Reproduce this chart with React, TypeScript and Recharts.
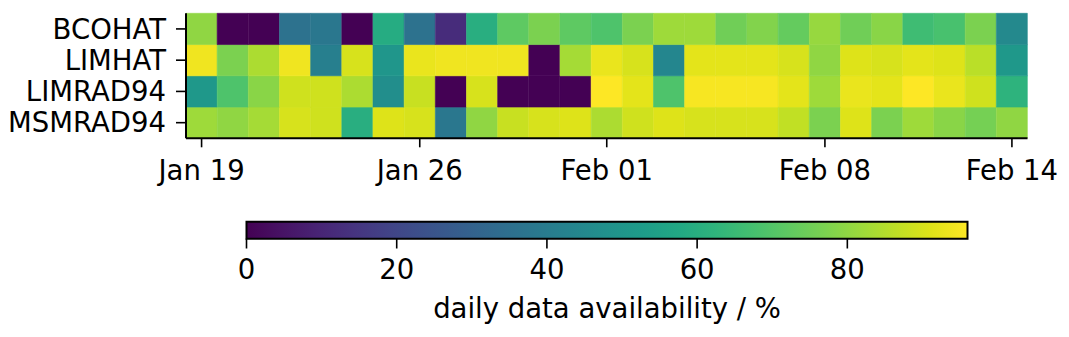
import React from "react";
import { Bar, BarChart, Cell, XAxis, YAxis } from "recharts";

// days shown on the x axis (one column per day)
const days = [
  "Jan 19", "Jan 20", "Jan 21", "Jan 22", "Jan 23", "Jan 24", "Jan 25",
  "Jan 26", "Jan 27", "Jan 28", "Jan 29", "Jan 30", "Jan 31", "Feb 01",
  "Feb 02", "Feb 03", "Feb 04", "Feb 05", "Feb 06", "Feb 07", "Feb 08",
  "Feb 09", "Feb 10", "Feb 11", "Feb 12", "Feb 13", "Feb 14",
];
const labelledDays = ["Jan 19", "Jan 26", "Feb 01", "Feb 08", "Feb 14"];

const instruments = ["BCOHAT", "LIMHAT", "LIMRAD94", "MSMRAD94"];

// daily data availability in %
const bcohat = [80, 0, 0, 36, 38, 0, 59, 36, 12, 60, 72, 77, 72, 69, 77, 82, 82, 75, 78, 73, 81, 75, 79, 66, 68, 77, 45];
const limhat = [94, 77, 84, 94, 41, 90, 50, 93, 94, 94, 94, 0, 83, 93, 90, 44, 92, 92, 92, 90, 80, 91, 90, 92, 91, 86, 51];
const limrad94 = [51, 69, 79, 89, 89, 84, 47, 88, 0, 90, 0, 0, 0, 96, 92, 69, 95, 95, 95, 92, 82, 93, 92, 96, 93, 89, 62];
const msmrad94 = [82, 80, 83, 90, 89, 60, 91, 90, 38, 80, 88, 90, 91, 84, 89, 91, 90, 90, 90, 87, 77, 91, 77, 82, 79, 76, 80];

const cbarMax = 96;
const cbarTicks = [0, 20, 40, 60, 80];

const viridis = [
  "#440154", "#471365", "#482475", "#463480", "#414487", "#3b528b", "#355f8d",
  "#2f6c8e", "#2a788e", "#25848e", "#21918c", "#1e9c89", "#22a884", "#2fb47c",
  "#44bf70", "#5ec962", "#7ad151", "#9bd93c", "#bddf26", "#dfe318", "#fde725",
];

const hex = (c: string) => [1, 3, 5].map((i) => parseInt(c.slice(i, i + 2), 16));

function colorFor(v: number) {
  const t = Math.max(0, Math.min(1, v / cbarMax)) * (viridis.length - 1);
  const i = Math.min(Math.floor(t), viridis.length - 2);
  const f = t - i;
  const a = hex(viridis[i]);
  const b = hex(viridis[i + 1]);
  const rgb = a.map((x, k) => Math.round(x + (b[k] - x) * f));
  return `rgb(${rgb.join(",")})`;
}

// stacked from the bottom up, so the first row sits on top
const rows = [
  { name: "MSMRAD94", values: msmrad94 },
  { name: "LIMRAD94", values: limrad94 },
  { name: "LIMHAT", values: limhat },
  { name: "BCOHAT", values: bcohat },
];

const heatData = days.map((day) => ({
  day,
  MSMRAD94: 1,
  LIMRAD94: 1,
  LIMHAT: 1,
  BCOHAT: 1,
}));

const font = "DejaVu Sans";
const fs = 27.5;
const frame = { stroke: "#000", strokeWidth: 2 };

const DayTick = (props: any) => {
  const { x, y, payload } = props;
  if (!labelledDays.includes(payload.value)) return null;
  return (
    <g>
      <line x1={x} x2={x} y1={y} y2={y + 9} stroke="#000" strokeWidth={1.6} />
      <text x={x} y={y + 42} textAnchor="middle" fontSize={fs} fontFamily={font} fill="#000">
        {payload.value}
      </text>
    </g>
  );
};

export default function App() {
  return (
    <div style={{ position: "absolute", left: 0, top: 0, width: 1069, height: 337, background: "#fff", fontFamily: font }}>
      <BarChart
        width={1069}
        height={200}
        data={heatData}
        margin={{ top: 13.3, right: 41.5, left: 0, bottom: 0 }}
        barCategoryGap={0}
        barGap={0}
      >
        {rows.map((r) => (
          <Bar key={r.name} dataKey={r.name} stackId="a" isAnimationActive={false}>
            {r.values.map((v, i) => (
              <Cell key={i} fill={colorFor(v)} stroke={colorFor(v)} strokeWidth={0.6} />
            ))}
          </Bar>
        ))}
        <XAxis
          dataKey="day"
          interval={0}
          height={61.7}
          tickSize={0}
          tickMargin={0}
          tickLine={false}
          axisLine={frame}
          tick={<DayTick />}
        />
        <XAxis xAxisId="top" orientation="top" height={0} tick={false} tickLine={false} axisLine={frame} />
        <YAxis
          type="number"
          domain={[0, 4]}
          ticks={[0.5, 1.5, 2.5, 3.5]}
          interval={0}
          tickFormatter={(v: number) => instruments[3 - Math.floor(v)]}
          width={186}
          tickSize={10}
          tickMargin={10}
          tickLine={{ stroke: "#000", strokeWidth: 1.6 }}
          axisLine={frame}
          tick={{ fill: "#000", fontSize: fs, fontFamily: font }}
        />
        <YAxis yAxisId="right" orientation="right" width={0} tick={false} tickLine={false} axisLine={frame} />
      </BarChart>
      <BarChart
        width={1069}
        height={137}
        layout="vertical"
        data={[{ name: "cbar", value: cbarMax }]}
        margin={{ top: 21.7, right: 101.5, left: 246.5, bottom: 0 }}
        barCategoryGap={0}
      >
        <defs>
          <linearGradient id="viridisGrad" x1="0" y1="0" x2="1" y2="0">
            {viridis.map((c, i) => (
              <stop key={i} offset={i / (viridis.length - 1)} stopColor={c} />
            ))}
          </linearGradient>
        </defs>
        <YAxis type="category" dataKey="name" hide />
        <XAxis
          type="number"
          domain={[0, cbarMax]}
          ticks={cbarTicks}
          interval={0}
          height={98.5}
          tickSize={10}
          tickMargin={11}
          axisLine={false}
          tickLine={{ stroke: "#000", strokeWidth: 1.6 }}
          tick={{ fill: "#000", fontSize: fs, fontFamily: font }}
          label={{
            value: "daily data availability / %",
            position: "insideBottom",
            offset: 18.7,
            fill: "#000",
            fontSize: fs,
            fontFamily: font,
          }}
        />
        <Bar dataKey="value" fill="url(#viridisGrad)" stroke="#000" strokeWidth={2} isAnimationActive={false} />
      </BarChart>
    </div>
  );
}
